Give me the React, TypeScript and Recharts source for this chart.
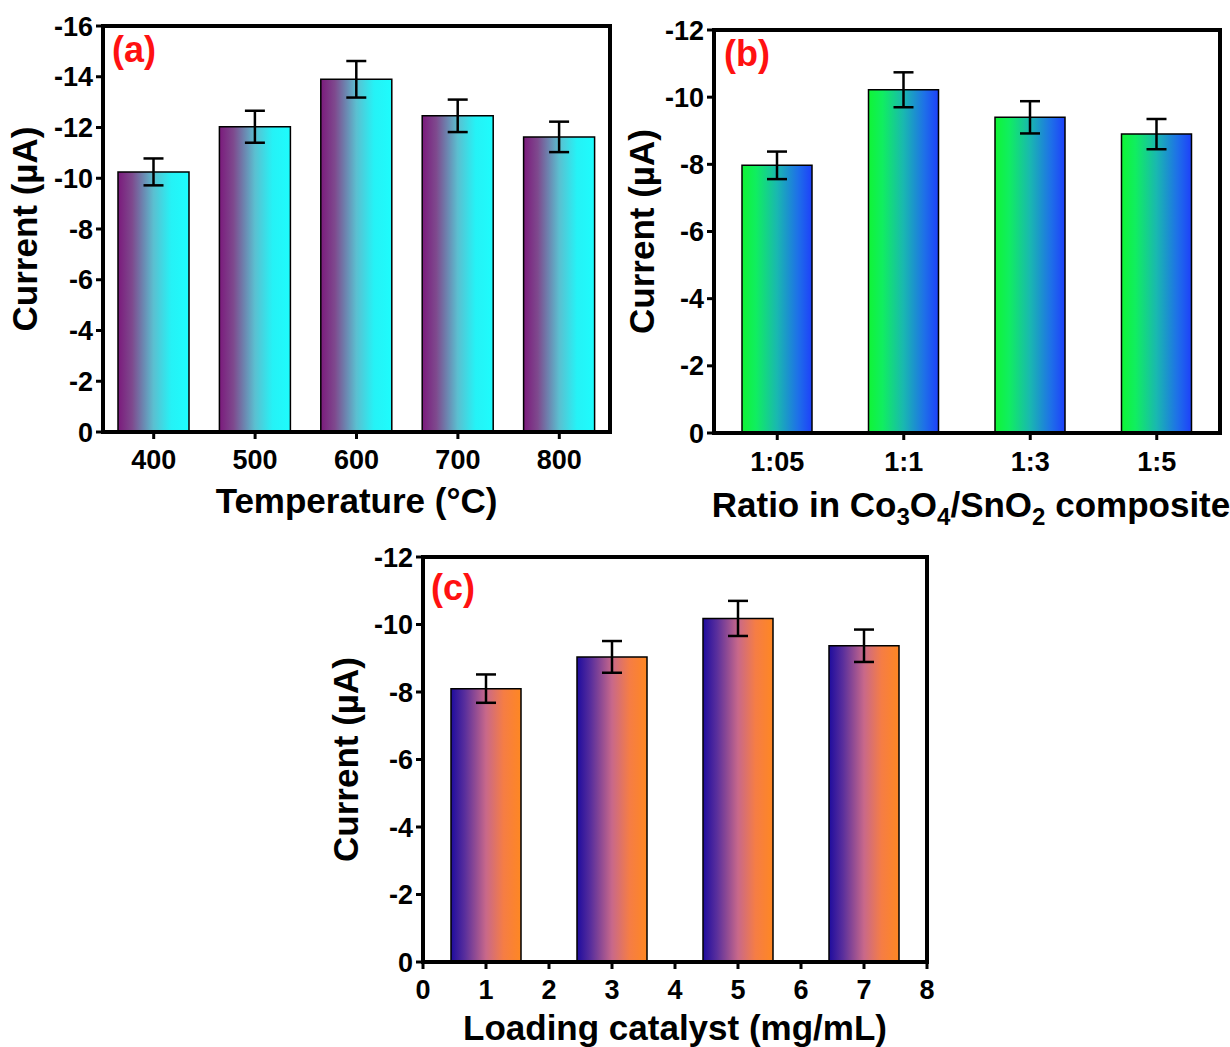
import { BarChart, Bar, XAxis, YAxis, ErrorBar, Label } from 'recharts'

const tempCats = ['400', '500', '600', '700', '800']
const tempCurrent = [-10.25, -12.03, -13.9, -12.46, -11.63]
const tempErr = [0.53, 0.63, 0.72, 0.64, 0.6]
const tempTicks = [0, -2, -4, -6, -8, -10, -12, -14, -16]

const ratioCats = ['1:05', '1:1', '1:3', '1:5']
const ratioCurrent = [-7.97, -10.22, -9.4, -8.9]
const ratioErr = [0.41, 0.52, 0.48, 0.45]

const loadX = [1, 3, 5, 7]
const loadCurrent = [-8.1, -9.04, -10.18, -9.37]
const loadErr = [0.42, 0.47, 0.52, 0.48]
const loadXTicks = [0, 1, 2, 3, 4, 5, 6, 7, 8]

const currentTicks12 = [0, -2, -4, -6, -8, -10, -12]

const tempData = tempCats.map((cat, i) => ({ cat, y: tempCurrent[i], err: tempErr[i] }))
const ratioData = ratioCats.map((cat, i) => ({ cat, y: ratioCurrent[i], err: ratioErr[i] }))
const loadData = loadX.map((x, i) => ({ x, y: loadCurrent[i], err: loadErr[i] }))

const FONT = '"Liberation Sans", Arial, sans-serif'
const tick = { fill: '#000', fontSize: 27, fontWeight: 'bold', fontFamily: FONT }
const TITLE_SIZE = 35

const YTitle = (props: any) => {
  const vb = props.viewBox || { x: 0, y: 0, width: 0, height: 0 }
  return (
    <text
      transform={`translate(${vb.x + props.bx},${vb.y + vb.height / 2}) rotate(-90)`}
      textAnchor="middle"
      fontSize={TITLE_SIZE}
      fontWeight="bold"
      fontFamily={FONT}
      fill="#000"
    >
      Current (µA)
    </text>
  )
}

const XTitle = (props: any) => {
  const vb = props.viewBox || { x: 0, y: 0, width: 0, height: 0 }
  return (
    <text
      x={vb.x + vb.width / 2 + (props.dx || 0)}
      y={vb.y + props.by}
      textAnchor="middle"
      fontSize={TITLE_SIZE}
      fontWeight="bold"
      fontFamily={FONT}
      fill="#000"
    >
      {props.children}
    </text>
  )
}

const Grad = ({ id, stops }: { id: string; stops: [number, string][] }) => (
  <defs>
    <linearGradient id={id} x1="0" y1="0" x2="1" y2="0">
      {stops.map(([o, c]) => (
        <stop key={o} offset={o} stopColor={c} />
      ))}
    </linearGradient>
  </defs>
)

const panelLabel = (text: string, left: number, top: number) => (
  <div
    style={{
      position: 'absolute',
      left,
      top,
      color: '#ff1111',
      fontSize: 36,
      fontWeight: 'bold',
      fontFamily: FONT,
      lineHeight: '36px',
    }}
  >
    {text}
  </div>
)

// thick box around the plot area (axis line is at the box's centre line)
const frame = (left: number, top: number, width: number, height: number) => (
  <div
    style={{
      position: 'absolute',
      left: left - 2,
      top: top - 2,
      width: width + 4,
      height: height + 4,
      border: '4px solid #000',
      boxSizing: 'border-box',
      pointerEvents: 'none',
    }}
  />
)

const axisProps = {
  stroke: '#000',
  strokeWidth: 3,
  tick,
  tickSize: 7,
  interval: 0 as const,
}

export default function App() {
  return (
    <div
      style={{
        position: 'absolute',
        left: 0,
        top: 0,
        width: 1230,
        height: 1047,
        background: '#fff',
        fontFamily: FONT,
      }}
    >
      {/* (a) temperature */}
      <div style={{ position: 'absolute', left: 0, top: 0 }}>
        <BarChart width={620} height={530} data={tempData} margin={{ top: 26, right: 10, left: 0, bottom: 0 }}>
          <Grad
            id="gradA"
            stops={[
              [0, '#7b1a7c'],
              [0.2, '#7e4a8e'],
              [0.5, '#5bbfd0'],
              [0.75, '#25f2f6'],
              [1, '#1efcfd'],
            ]}
          />
          <XAxis dataKey="cat" height={98} tickMargin={11} {...axisProps}>
            <Label content={<XTitle by={81}>Temperature (°C)</XTitle>} />
          </XAxis>
          <YAxis reversed domain={[-16, 0]} ticks={tempTicks} width={103} tickMargin={3} {...axisProps}>
            <Label content={<YTitle bx={37} />} />
          </YAxis>
          <Bar dataKey="y" fill="url(#gradA)" stroke="#000" strokeWidth={1.5} barSize={71} isAnimationActive={false}>
            <ErrorBar dataKey="err" width={10} stroke="#000" strokeWidth={2.5} />
          </Bar>
        </BarChart>
        {frame(103, 26, 507, 406)}
        {panelLabel('(a)', 112, 32)}
      </div>

      {/* (b) ratio */}
      <div style={{ position: 'absolute', left: 620, top: 0 }}>
        <BarChart width={610} height={530} data={ratioData} margin={{ top: 30, right: 10, left: 0, bottom: 0 }}>
          <Grad
            id="gradB"
            stops={[
              [0, '#10f535'],
              [0.2, '#10ee60'],
              [0.5, '#19b8b0'],
              [0.8, '#1e70e8'],
              [1, '#1e40fa'],
            ]}
          />
          <XAxis dataKey="cat" height={97} tickMargin={12} {...axisProps}>
            <Label
              content={
                <XTitle by={84} dx={4}>
                  <tspan>Ratio in Co</tspan>
                  <tspan dy={8} fontSize={24}>3</tspan>
                  <tspan dy={-8}>O</tspan>
                  <tspan dy={8} fontSize={24}>4</tspan>
                  <tspan dy={-8}>/SnO</tspan>
                  <tspan dy={8} fontSize={24}>2</tspan>
                  <tspan dy={-8}> composite</tspan>
                </XTitle>
              }
            />
          </XAxis>
          <YAxis reversed domain={[-12, 0]} ticks={currentTicks12} width={94} tickMargin={3} {...axisProps}>
            <Label content={<YTitle bx={34} />} />
          </YAxis>
          <Bar dataKey="y" fill="url(#gradB)" stroke="#000" strokeWidth={1.5} barSize={70} isAnimationActive={false}>
            <ErrorBar dataKey="err" width={10} stroke="#000" strokeWidth={2.5} />
          </Bar>
        </BarChart>
        {frame(94, 30, 506, 403)}
        {panelLabel('(b)', 104, 36)}
      </div>

      {/* (c) loading */}
      <div style={{ position: 'absolute', left: 320, top: 540 }}>
        <BarChart width={630} height={507} data={loadData} margin={{ top: 17, right: 23, left: 0, bottom: 0 }}>
          <Grad
            id="gradC"
            stops={[
              [0, '#1e0c9e'],
              [0.2, '#5a2f9c'],
              [0.5, '#c8688a'],
              [0.75, '#f57d45'],
              [1, '#ff8722'],
            ]}
          />
          <XAxis
            dataKey="x"
            type="number"
            domain={[0, 8]}
            ticks={loadXTicks}
            height={85}
            tickMargin={11}
            {...axisProps}
          >
            <Label content={<XTitle by={78}>Loading catalyst (mg/mL)</XTitle>} />
          </XAxis>
          <YAxis reversed domain={[-12, 0]} ticks={currentTicks12} width={103} tickMargin={3} {...axisProps}>
            <Label content={<YTitle bx={38} />} />
          </YAxis>
          <Bar dataKey="y" fill="url(#gradC)" stroke="#000" strokeWidth={1.5} barSize={70} isAnimationActive={false}>
            <ErrorBar dataKey="err" width={10} stroke="#000" strokeWidth={2.5} />
          </Bar>
        </BarChart>
        {frame(103, 17, 504, 405)}
        {panelLabel('(c)', 111, 30)}
      </div>
    </div>
  )
}
